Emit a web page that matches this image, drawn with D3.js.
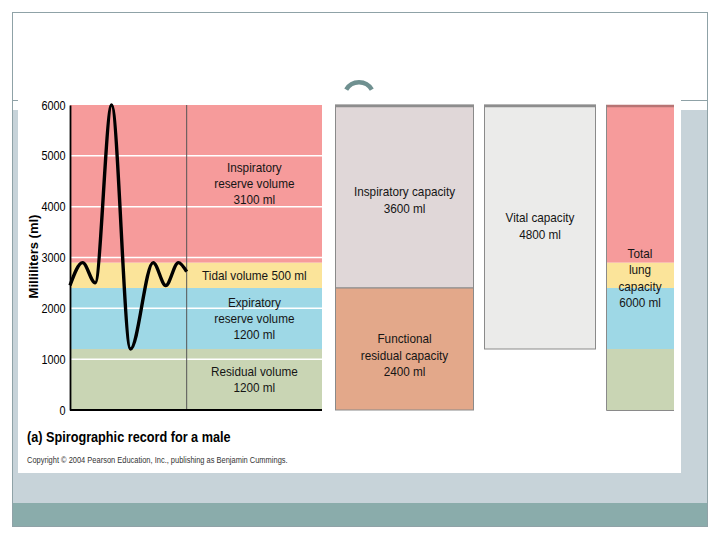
<!DOCTYPE html>
<html>
<head>
<meta charset="utf-8">
<script src="https://d3js.org/d3.v7.min.js"></script>
<style>
  body { margin: 0; background: #fff; }
  svg text { font-family: "Liberation Sans", Arial, sans-serif; }
</style>
</head>
<body>
<div id="chart"></div>
<script>
// ---- data ----
var volNames  = ["Residual volume", "Expiratory reserve volume", "Tidal volume", "Inspiratory reserve volume"];
var volValues = [1200, 1200, 500, 3100];
var volLines  = [["Residual volume"], ["Expiratory", "reserve volume"], [], ["Inspiratory", "reserve volume"]];

var capNames  = ["Inspiratory capacity", "Functional residual capacity", "Vital capacity", "Total lung capacity"];
var capLow    = [2400, 0, 1200, 0];
var capHigh   = [6000, 2400, 6000, 6000];
var capLines  = [["Inspiratory capacity"], ["Functional", "residual capacity"], ["Vital capacity"], ["Total", "lung", "capacity"]];

// spirogram trace: time (arbitrary units) and volume (ml) at turning points
var traceT  = [0, 5, 10, 16.5, 24, 33, 38, 43, 46.3];
var traceMl = [2450, 2900, 2500, 6000, 1200, 2900, 2450, 2900, 2720];

var yTicks = [0, 1000, 2000, 3000, 4000, 5000, 6000];

// ---- layout ----
var W = 720, H = 540;
var NARROW = 0.87;   // no narrow font installed, squeeze text horizontally
var volColors = ["#c9d5b4", "#9ed8e6", "#fbe49a", "#f69b9b"];
var capFill   = ["#e0d7d8", "#e3a88a", "#ebebea", null];
var capCols   = [[335, 474], [335, 474], [484, 596], [606, 674]];
var capLabelMl = [4130, 1080, 3620, 2600];

var svg = d3.select('#chart').append('svg')
  .attr('width', W).attr('height', H);

// multi-line centred label, squeezed
function label(cx, mid, lines, step, size) {
  var g = svg.append('g').attr('transform', 'translate(' + cx + ',0) scale(' + NARROW + ',1)');
  var txt = g.append('text')
    .attr('text-anchor', 'middle')
    .attr('font-size', size)
    .attr('fill', '#151515');
  lines.forEach(function(s, k) {
    txt.append('tspan')
      .attr('x', 0)
      .attr('y', mid + 4.5 + (k - (lines.length - 1) / 2) * step)
      .text(s);
  });
}

// slide decoration
svg.append('rect').attr('x', 12).attr('y', 110).attr('width', 696).attr('height', 393).attr('fill', '#c7d3d9');
svg.append('rect').attr('x', 12).attr('y', 503).attr('width', 696).attr('height', 24).attr('fill', '#8aacab');
svg.append('line').attr('x1', 12).attr('x2', 708).attr('y1', 100.5).attr('y2', 100.5)
  .attr('stroke', '#8fa2a7').attr('stroke-width', 1);
svg.append('rect').attr('x', 18).attr('y', 40).attr('width', 663).attr('height', 433).attr('fill', '#fff');
svg.append('rect').attr('x', 12.5).attr('y', 12.5).attr('width', 695).attr('height', 514)
  .attr('fill', 'none').attr('stroke', '#8fa2a7').attr('stroke-width', 1);
svg.append('path')
  .attr('transform', 'translate(359,97)')
  .attr('d', d3.arc()({innerRadius: 12.5, outerRadius: 17, startAngle: -1.05, endAngle: 1.05}))
  .attr('fill', '#6f9090');

// scales
var y = d3.scaleLinear().domain([0, 6000]).range([410, 105]);
var t = d3.scaleLinear().domain([0, 100]).range([70, 322]);

var volTop = d3.cumsum(volValues);
var volBot = volTop.map(function(d, i) { return d - volValues[i]; });

// left panel volume bands
svg.selectAll('rect.vol')
  .data(volValues)
  .enter()
  .append('rect')
  .attr('class', 'vol')
  .attr('x', t(0))
  .attr('y', function(d, i) { return y(volTop[i]); })
  .attr('width', t(100) - t(0))
  .attr('height', function(d, i) { return y(volBot[i]) - y(volTop[i]); })
  .attr('fill', function(d, i) { return volColors[i]; });

// white gridlines
svg.selectAll('line.grid')
  .data(yTicks.slice(1, -1))
  .enter()
  .append('line')
  .attr('x1', t(0)).attr('x2', t(100))
  .attr('y1', function(d) { return y(d); })
  .attr('y2', function(d) { return y(d); })
  .attr('stroke', '#fff').attr('stroke-width', 1.5);

// divider at end of trace
var tEnd = traceT[traceT.length - 1];
svg.append('line')
  .attr('x1', t(tEnd)).attr('x2', t(tEnd))
  .attr('y1', y(6000)).attr('y2', y(0))
  .attr('stroke', '#555').attr('stroke-width', 1);

// trace
var line = d3.line()
  .x(function(d, i) { return t(traceT[i]); })
  .y(function(d) { return y(d); })
  .curve(d3.curveMonotoneX);
svg.append('path')
  .attr('d', line(traceMl))
  .attr('fill', 'none')
  .attr('stroke', '#000')
  .attr('stroke-width', 3.4)
  .attr('stroke-linejoin', 'round');

// y axis
var yAxis = d3.axisLeft(y).tickValues(yTicks).tickSize(0).tickPadding(5).tickFormat(d3.format('d'));
var ax = svg.append('g').attr('transform', 'translate(' + t(0) + ',0)').call(yAxis);
ax.select('.domain').attr('stroke', '#000').attr('stroke-width', 1.8);
ax.selectAll('text')
  .attr('font-size', 12.5).attr('fill', '#000')
  .attr('transform', 'scale(' + NARROW + ',1)')
  .style('font-family', '"Liberation Sans", Arial, sans-serif');

// x baseline
svg.append('line')
  .attr('x1', t(0)).attr('x2', t(100))
  .attr('y1', y(0)).attr('y2', y(0))
  .attr('stroke', '#000').attr('stroke-width', 1.8);

svg.append('text')
  .attr('transform', 'translate(37.5,' + (y(3000) - 1) + ') rotate(-90)')
  .attr('text-anchor', 'middle')
  .attr('font-size', 13).attr('font-weight', 'bold')
  .text('Milliliters (ml)');

// volume labels
var labelX = (t(tEnd) + t(100)) / 2;
volValues.forEach(function(v, i) {
  var lines = volLines[i].length ? volLines[i].concat([v + ' ml']) : [volNames[i] + ' ' + v + ' ml'];
  label(labelX, y((volTop[i] + volBot[i]) / 2), lines, 16, 13.5);
});

// capacity columns
capNames.forEach(function(name, i) {
  var c = capCols[i];
  if (capFill[i]) {
    svg.append('rect')
      .attr('x', c[0] + 0.5).attr('y', y(capHigh[i]))
      .attr('width', c[1] - c[0] - 1)
      .attr('height', y(capLow[i]) - y(capHigh[i]))
      .attr('fill', capFill[i])
      .attr('stroke', '#8a8a8a').attr('stroke-width', 1);
    if (capHigh[i] === 6000) {
      svg.append('line')
        .attr('x1', c[0]).attr('x2', c[1])
        .attr('y1', y(6000) + 1).attr('y2', y(6000) + 1)
        .attr('stroke', '#8d8d8d').attr('stroke-width', 2.5);
    }
  } else {
    // total lung capacity drawn as the stacked volumes
    svg.selectAll('rect.tlc')
      .data(volValues)
      .enter()
      .append('rect')
      .attr('x', c[0])
      .attr('y', function(d, k) { return y(volTop[k]); })
      .attr('width', c[1] - c[0])
      .attr('height', function(d, k) { return y(volBot[k]) - y(volTop[k]); })
      .attr('fill', function(d, k) { return volColors[k]; });
    svg.append('line')
      .attr('x1', c[0]).attr('x2', c[1])
      .attr('y1', y(6000) + 1).attr('y2', y(6000) + 1)
      .attr('stroke', '#b77474').attr('stroke-width', 2.5);
    svg.append('path')
      .attr('d', 'M' + (c[0] + 0.5) + ',' + y(6000) + 'V' + (y(0) + 0.5) + 'H' + c[1])
      .attr('fill', 'none').attr('stroke', '#8a8a8a').attr('stroke-width', 1);
  }
  var lines = capLines[i].concat([(capHigh[i] - capLow[i]) + ' ml']);
  label((c[0] + c[1]) / 2, y(capLabelMl[i]), lines, 16.5, 13.5);
});

// caption
svg.append('g').attr('transform', 'translate(27,0) scale(0.875,1)')
  .append('text')
  .attr('x', 0).attr('y', 442)
  .attr('font-size', 14.5).attr('font-weight', 'bold')
  .text('(a)  Spirographic record for a male');
svg.append('g').attr('transform', 'translate(27,0) scale(0.88,1)')
  .append('text')
  .attr('x', 0).attr('y', 463)
  .attr('font-size', 8.5).attr('fill', '#333')
  .text('Copyright \u00a9 2004 Pearson Education, Inc., publishing as Benjamin Cummings.');
</script>
</body>
</html>
